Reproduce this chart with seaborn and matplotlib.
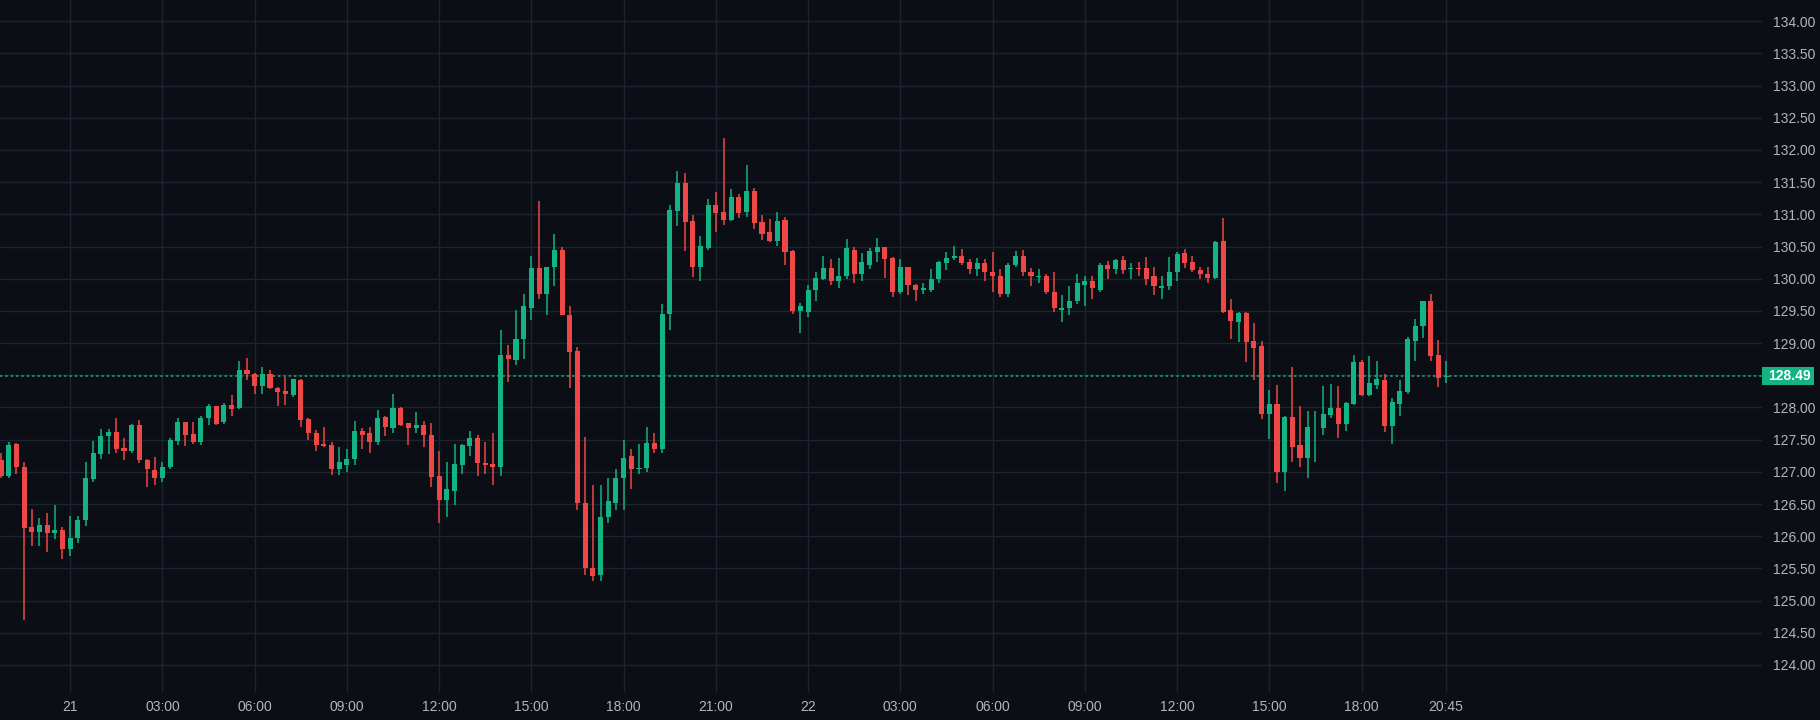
import numpy as np
import pandas as pd
import matplotlib
matplotlib.use("Agg")
import matplotlib.pyplot as plt
import matplotlib.transforms as mtransforms
from matplotlib.patches import Rectangle
import seaborn as sns

# ---- data (15-minute candles, first candle 20 21:45) ----
opens = [127.19,126.93,127.43,127.08,126.14,126.07,126.17,126.05,126.09,125.80,
         125.97,126.25,126.89,127.28,127.56,127.62,127.37,127.33,127.72,127.19,
         127.03,126.90,127.08,127.48,127.77,127.59,127.47,127.84,128.02,127.78,
         128.04,127.99,128.58,128.52,128.33,128.52,128.30,128.25,128.19,128.43,
         127.82,127.61,127.43,127.41,127.05,127.10,127.20,127.63,127.60,127.46,
         127.85,127.68,127.99,127.76,127.68,127.72,127.57,126.93,126.57,126.71,
         127.10,127.40,127.52,127.13,127.12,127.07,128.82,128.74,129.07,129.55,
         130.16,129.76,130.18,130.44,129.44,128.88,126.52,125.50,125.40,126.30,
         126.51,126.90,127.24,127.04,127.06,127.45,127.35,129.45,131.05,131.49,
         130.90,130.19,130.47,131.15,131.04,130.91,131.27,131.04,131.36,130.88,
         130.72,130.58,130.91,130.43,129.50,129.49,129.82,130.00,130.16,129.97,
         130.04,130.44,130.07,130.22,130.41,130.49,130.32,129.79,130.18,129.91,
         129.82,129.83,129.99,130.24,130.32,130.36,130.26,130.15,130.24,130.11,
         130.05,129.76,130.21,130.36,130.11,130.03,130.04,129.80,129.51,129.54,
         129.65,129.91,129.97,129.83,130.22,130.15,130.29,130.15,130.16,130.16,
         130.04,129.86,129.88,130.10,130.40,130.26,130.14,130.08,130.01,130.58,
         129.51,129.33,129.46,129.04,128.96,127.90,128.05,126.99,127.85,127.41,
         127.21,127.69,127.68,127.88,127.99,127.74,128.05,128.71,128.19,128.35,
         128.43,127.71,128.05,128.24,129.04,129.26,129.65,128.82,128.47]
highs = [127.30,127.47,127.45,127.16,126.42,126.28,126.36,126.48,126.15,126.31,
         126.32,127.16,127.48,127.67,127.66,127.84,127.53,127.74,127.80,127.20,
         127.23,127.16,127.53,127.83,127.77,127.77,127.87,128.05,128.03,128.07,
         128.19,128.72,128.77,128.53,128.63,128.58,128.32,128.47,128.45,128.44,
         127.83,127.65,127.69,127.46,127.38,127.36,127.79,127.68,127.69,127.96,
         127.86,128.21,128.00,127.76,127.93,127.79,127.76,127.32,127.15,127.43,
         127.43,127.63,127.57,127.46,127.60,129.21,128.97,129.51,129.76,130.35,
         131.21,130.19,130.69,130.49,129.58,128.94,127.54,126.80,126.80,126.90,
         127.04,127.49,127.36,127.43,127.70,127.60,129.61,131.15,131.68,131.65,
         130.99,130.66,131.24,131.35,132.18,131.40,131.32,131.76,131.41,130.99,
         130.93,131.04,130.96,130.45,129.63,129.91,130.10,130.35,130.30,130.32,
         130.61,130.49,130.40,130.47,130.63,130.50,130.33,130.30,130.19,129.92,
         129.94,130.15,130.27,130.41,130.51,130.46,130.30,130.32,130.30,130.41,
         130.15,130.25,130.43,130.44,130.16,130.15,130.08,130.10,129.74,129.88,
         130.08,130.05,130.05,130.25,130.27,130.30,130.35,130.24,130.26,130.33,
         130.19,130.05,130.33,130.41,130.46,130.35,130.18,130.18,130.59,130.94,
         129.69,129.49,129.49,129.32,129.04,128.27,128.35,127.86,128.63,128.02,
         127.94,127.94,128.33,128.36,128.33,128.08,128.82,128.73,128.80,128.72,
         128.52,128.15,128.43,129.10,129.38,129.66,129.77,129.05,128.72]
lows = [126.90,126.90,126.97,124.70,125.85,125.85,125.75,125.95,125.65,125.70,
        125.90,126.16,126.85,127.20,127.27,127.30,127.18,127.30,127.13,126.76,
        126.79,126.85,127.04,127.41,127.40,127.44,127.42,127.72,127.72,127.74,
        127.87,127.97,128.43,128.21,128.21,128.29,128.02,128.04,128.16,127.69,
        127.49,127.32,127.38,126.95,126.95,127.00,127.10,127.36,127.29,127.41,
        127.55,127.60,127.71,127.41,127.61,127.38,126.77,126.20,126.30,126.49,
        126.97,127.24,126.93,126.96,126.79,126.93,128.40,128.66,128.76,129.36,
        129.69,129.43,129.88,129.43,128.30,126.41,125.40,125.30,125.30,126.20,
        126.40,126.40,126.74,126.97,127.00,127.30,127.30,129.20,130.82,130.43,
        130.02,129.97,130.45,130.72,130.83,130.90,130.94,130.96,130.77,130.60,
        130.57,130.51,130.21,129.45,129.15,129.40,129.66,129.98,129.91,129.85,
        130.00,129.93,129.96,130.15,130.26,130.01,129.71,129.77,129.74,129.66,
        129.76,129.80,129.93,130.13,130.29,130.21,130.08,130.04,129.96,129.79,
        129.72,129.72,130.19,130.05,129.88,129.94,129.76,129.49,129.33,129.43,
        129.60,129.58,129.68,129.79,130.00,130.07,130.08,130.00,130.04,129.91,
        129.74,129.69,129.83,129.96,130.16,130.11,129.99,129.93,130.00,129.46,
        129.07,129.02,128.71,128.43,127.82,127.51,126.83,126.71,127.15,127.07,
        126.90,127.15,127.58,127.83,127.52,127.63,128.04,128.18,128.18,128.29,
        127.62,127.43,127.87,128.21,128.72,129.08,128.72,128.32,128.38]
closes = [126.93,127.41,127.07,126.13,126.07,126.17,126.05,126.09,125.80,125.97,
          126.25,126.91,127.30,127.56,127.62,127.36,127.33,127.72,127.18,127.04,
          126.90,127.08,127.50,127.77,127.58,127.47,127.84,128.03,127.75,128.04,
          127.97,128.58,128.52,128.33,128.52,128.30,128.24,128.21,128.44,127.80,
          127.61,127.41,127.40,127.05,127.15,127.20,127.63,127.57,127.46,127.83,
          127.69,127.99,127.72,127.68,127.72,127.57,126.92,126.57,126.74,127.12,
          127.41,127.52,127.13,127.10,127.07,128.82,128.76,129.07,129.57,130.16,
          129.77,130.19,130.44,129.43,128.86,126.51,125.50,125.38,126.30,126.54,
          126.91,127.22,127.04,127.06,127.45,127.35,129.45,131.07,131.49,130.88,
          130.19,130.51,131.15,131.02,130.91,131.27,131.02,131.36,130.86,130.69,
          130.58,130.90,130.41,129.50,129.58,129.83,130.01,130.16,129.97,130.04,
          130.47,130.07,130.26,130.43,130.49,130.30,129.79,130.18,129.90,129.82,
          129.86,130.00,130.26,130.32,130.36,130.24,130.15,130.24,130.10,130.04,
          129.76,130.22,130.35,130.10,130.04,130.04,129.79,129.54,129.54,129.66,
          129.94,129.97,129.85,130.22,130.15,130.29,130.13,130.16,130.15,130.00,
          129.88,129.89,130.11,130.38,130.24,130.13,130.08,130.01,130.57,129.49,
          129.35,129.46,129.02,128.93,127.90,128.05,126.99,127.85,127.38,127.21,
          127.69,127.70,127.90,127.99,127.74,128.07,128.71,128.19,128.38,128.44,
          127.71,128.08,128.26,129.07,129.27,129.65,128.80,128.46,128.49]
tick_idx = [9, 21, 33, 45, 57, 69, 81, 93, 105, 117, 129, 141, 153, 165, 177, 188]
tick_labels = ["21", "03:00", "06:00", "09:00", "12:00", "15:00", "18:00", "21:00",
               "22", "03:00", "06:00", "09:00", "12:00", "15:00", "18:00", "20:45"]
last_price = 128.49
y_ticks = [124.0 + 0.5 * i for i in range(21)]

df = pd.DataFrame({"open": opens, "high": highs, "low": lows, "close": closes})
df["idx"] = np.arange(len(df))
df["up"] = df["close"] >= df["open"]

BG = "#0b0e14"
GRID = "#1e2330"
TXT = "#b2b5be"
UP = "#14b383"
DOWN = "#ef4646"

sns.set_theme(style="dark")
plt.rcParams["font.family"] = ["Liberation Sans", "DejaVu Sans"]

fig = plt.figure(figsize=(18.2, 7.2), dpi=100, facecolor=BG)
ax = fig.add_axes([0, 28 / 720, 1762 / 1820, 692 / 720])
ax.set_facecolor(BG)

colors = np.where(df["up"], UP, DOWN)
ax.vlines(df["idx"], df["low"], df["high"], colors=colors, linewidth=1.1, zorder=3)
body_bottom = np.minimum(df["open"], df["close"])
body_h = np.maximum(np.abs(df["close"] - df["open"]), 0.012)
ax.bar(df["idx"], body_h, bottom=body_bottom, width=0.66, color=colors,
       linewidth=0, zorder=4)

ax.axhline(last_price, color=UP, linestyle=(0, (1.5, 2)), linewidth=1.1, zorder=2)

ax.set_xlim(-0.13, 229.1)
ax.set_ylim(123.58, 134.33)
ax.set_xticks(tick_idx)
ax.set_xticklabels(tick_labels)
ax.set_yticks(y_ticks)
# the 128.50 label is hidden behind the last-price tag in the reference
ax.set_yticklabels(["" if abs(v - 128.5) < 1e-9 else f"{v:.2f}" for v in y_ticks])
ax.yaxis.tick_right()
ax.tick_params(axis="y", length=0, pad=8, labelsize=10, labelcolor=TXT)
ax.tick_params(axis="x", length=0, pad=6, labelsize=10, labelcolor=TXT)
ax.grid(True, color=GRID, linewidth=1)
for s in ax.spines.values():
    s.set_visible(False)

# last price label on the axis
trans = mtransforms.blended_transform_factory(fig.transFigure, ax.transData)
ax.add_patch(Rectangle((1762 / 1820, last_price - 0.135), 52 / 1820, 0.27,
                       transform=trans, facecolor=UP, edgecolor="none",
                       clip_on=False, zorder=5))
ax.text(1789 / 1820, last_price, f"{last_price:.2f}", transform=trans,
        ha="center", va="center", color="white", fontsize=10,
        fontweight="bold", zorder=6, clip_on=False)

fig.savefig("out.png", dpi=100, facecolor=BG)
